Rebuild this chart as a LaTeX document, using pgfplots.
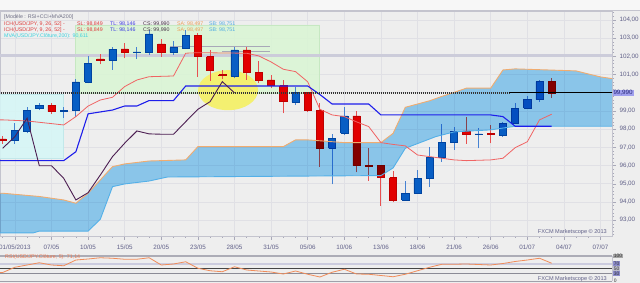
\documentclass[border=0pt]{standalone}
\usepackage{fontspec}
\setmainfont{Liberation Sans}
\usepackage{pgfplots}
\usepackage{pgfplotstable}
\pgfplotsset{compat=1.18}
\definecolor{bg}{RGB}{238,238,238}
\definecolor{gridc}{RGB}{224,224,229}
\definecolor{toolbar}{RGB}{247,247,247}
\definecolor{bordc}{RGB}{196,196,206}
\definecolor{greenr}{RGB}{218,245,212}
\definecolor{greenb}{RGB}{198,232,194}
\definecolor{cyanr}{RGB}{214,246,246}
\definecolor{cyanb}{RGB}{194,232,234}
\definecolor{cloud}{RGB}{148,212,250}
\definecolor{cloudtop}{RGB}{240,172,112}
\definecolor{cloudbot}{RGB}{84,176,232}
\definecolor{cblue}{RGB}{8,94,196}
\definecolor{cblued}{RGB}{0,68,160}
\definecolor{cbluew}{RGB}{70,130,210}
\definecolor{cred}{RGB}{226,0,0}
\definecolor{credd}{RGB}{190,0,0}
\definecolor{credw}{RGB}{232,80,80}
\definecolor{kijun}{RGB}{30,30,235}
\definecolor{tenkan}{RGB}{240,100,100}
\definecolor{chikou}{RGB}{76,30,82}
\definecolor{ell}{RGB}{244,240,112}
\definecolor{hline}{RGB}{204,204,218}
\definecolor{sline}{RGB}{168,168,184}
\definecolor{labc}{RGB}{96,96,136}
\definecolor{rsic}{RGB}{240,140,90}
\definecolor{pricebox}{RGB}{160,160,238}
\definecolor{legred}{RGB}{222,60,60}
\definecolor{legblue}{RGB}{60,60,225}
\definecolor{legdark}{RGB}{70,50,70}
\definecolor{legorange}{RGB}{236,160,90}
\definecolor{leglblue}{RGB}{80,172,226}
\definecolor{legcyan}{RGB}{60,210,222}
\definecolor{leggray}{RGB}{110,110,132}

\pgfplotstableread{
i o h l c
0 97.46 97.63 97.19 97.40
1 97.37 98.36 97.19 97.92
2 97.86 99.20 97.77 99.02
3 99.13 99.42 99.05 99.31
4 99.31 99.42 98.82 98.96
5 98.98 99.20 98.60 99.04
6 99.02 100.78 98.69 100.59
7 100.59 102.02 100.52 101.62
8 101.86 102.11 101.56 101.80
9 101.80 102.53 101.25 102.39
10 102.41 102.72 101.89 102.22
11 102.20 102.53 101.84 102.24
12 102.21 103.45 102.08 103.23
13 102.68 102.94 101.99 102.22
14 102.22 102.86 102.08 102.48
15 102.46 103.45 102.39 103.14
16 103.14 103.27 100.89 101.99
17 101.99 102.32 100.67 101.25
18 101.00 101.25 100.74 100.95
19 100.92 102.50 100.79 102.35
20 102.35 102.53 100.70 101.11
21 101.11 101.77 100.52 100.70
22 100.70 100.98 100.25 100.43
23 100.39 100.70 98.87 99.51
24 99.49 100.34 99.33 100.01
25 100.01 100.05 98.96 99.02
26 99.02 99.42 95.94 96.95
27 96.95 97.72 94.97 97.50
28 97.77 99.24 97.68 98.73
29 98.73 99.02 95.63 96.00
30 96.02 96.95 95.17 95.98
31 96.00 96.00 93.80 95.34
32 95.34 95.72 93.98 94.11
33 94.11 95.17 94.11 94.48
34 94.48 95.76 94.44 95.30
35 95.30 97.00 94.84 96.44
36 96.44 98.27 96.22 97.28
37 97.26 98.10 96.86 97.86
38 97.90 98.69 97.19 97.72
39 97.72 98.05 96.95 97.74
40 97.75 98.23 97.22 97.73
41 97.68 98.41 97.59 98.32
42 98.32 99.42 98.29 99.15
43 99.15 99.82 99.15 99.64
44 99.64 100.70 99.51 100.61
45 100.61 100.83 99.70 99.99
}\candles

\pgfplotstableread{
i v
-0.5 94.48
0 94.48
3 94.30
5 94.11
6 93.93
7 94.48
8 95.21
9 95.94
10 96.09
12 96.25
15 96.31
16 97.04
23 97.04
24 97.41
25 97.41
28 97.26
31 97.26
32 97.77
33 99.20
35 99.56
36 99.80
37 100.02
38 100.25
40 100.25
41 101.25
42 101.31
47 101.20
48 101.03
49 100.87
50.5 100.72
}\cloudtop

\pgfplotstableread{
i v
-0.5 92.30
2.5 92.30
3 92.40
7 92.40
8 93.05
9 94.84
10 94.99
12 95.15
13.5 95.37
31 95.45
32 95.87
33 96.95
35.5 97.59
37 97.85
40 97.96
42 98.16
50.5 98.16
}\cloudbot

\pgfplotstableread{
i v
-0.5 96.27
5 96.27
6 96.76
7 98.84
9 99.05
10 99.27
11 99.27
12 99.57
14 99.57
15 100.37
25 100.37
26 99.90
27 99.38
30 99.38
31 98.78
40 98.78
41 98.69
42 98.16
45 98.16
}\kijun

\pgfplotstableread{
i v
-0.5 98.51
0 98.51
2 98.45
5 98.23
6 98.69
7 99.27
8 99.60
9 99.75
10 100.34
11 100.70
12 100.88
14 100.92
15 102.17
16 102.20
20 102.17
21 102.02
22 101.69
23 101.29
24 101.16
25 100.60
26 99.09
27 98.78
28 98.69
29 98.40
30 98.14
31 97.26
32 97.16
33 97.08
34 96.58
35 96.49
37 96.31
38 96.27
40 96.31
41 96.40
42 96.98
43 97.31
44 98.51
45 98.82
}\tenkan

\pgfplotstableread{
i v
0 96.95
1 97.59
2 98.60
3 95.99
4 95.99
5 95.30
6 94.11
7 94.51
8 95.48
9 96.49
10 97.23
11 97.90
12 97.74
13 97.72
14 97.72
15 98.41
16 99.09
17 99.51
18 100.61
19 99.99
}\chikou

\pgfplotstableread{
i r
-0.3 34
0 34
1 55
2 64
3 73
4 64
5 61
6 84
7 88
8 93
9 91
10 87
11 87
12 93
13 64
14 68
15 77
16 51
17 41
18 37
19 57
20 44
21 40
22 36
23 28
24 40
25 27
26 16
27 35
28 47
29 28
30 27
31 22
32 17
33 27
34 41
35 55
36 67
37 67
38 68
39 66
40 64
41 70
42 78
43 84
44 91
45 71
}\rsi

\newcommand\lf{\fontsize{5.3}{6}\selectfont}
\newcommand\af{\fontsize{6.3}{7}\selectfont}

\begin{document}
\begin{tikzpicture}
\path[use as bounding box, fill=bg] (0bp,0bp) rectangle (640bp,283bp);
\fill[toolbar] (0bp,273bp) rectangle (640bp,283bp);
\draw[bordc, line width=0.8bp] (0bp,272.6bp) -- (640bp,272.6bp);

\begin{axis}[
  at={(0bp,47bp)}, anchor=south west,
  scale only axis, width=612bp, height=225bp,
  xmin=-0.221, xmax=49.94, ymin=92.13, ymax=104.49,
  axis background/.style={fill=bg},
  axis line style={draw=bordc, line width=0.8bp},
  xtick={1,4,...,49},
  xticklabels={01/05/2013,07/05,10/05,15/05,20/05,23/05,28/05,31/05,05/06,10/06,13/06,18/06,21/06,26/06,01/07,04/07,07/07},
  minor xtick={0,...,50},
  ytick={93,94,...,104},
  yticklabels={{93,00},{94,00},{95,00},{96,00},{97,00},{98,00},{99,00},{},{101,00},{102,00},{103,00},{104,00}},
  minor ytick={92.2,92.4,...,104.4},
  xtick pos=bottom, ytick pos=right,
  tick align=outside,
  major tick length=4bp, minor tick length=2bp,
  tick style={draw=sline, line width=0.5bp},
  xmajorgrids, ymajorgrids,
  major grid style={draw=gridc, line width=0.6bp},
  ticklabel style={font=\af, text=labc},
  xticklabel style={yshift=-1bp},
  clip mode=individual,
]
% zones
\addplot[fill=greenr, draw=greenb, line width=0.6bp, fill opacity=0.88] coordinates {(5.97,99.98) (25.97,99.98) (25.97,103.73) (5.97,103.73) (5.97,99.98)};
\addplot[fill=cyanr, draw=cyanb, line width=0.6bp, fill opacity=0.88] coordinates {(-0.3,96.40) (4.97,96.40) (4.97,99.93) (-0.3,99.93) (-0.3,96.40)};
\addplot[hline, line width=2.4bp] coordinates {(-0.5,102.05) (50.5,102.05)};
\addplot[sline, line width=0.7bp] coordinates {(13.7,102.57) (21.9,102.57)};
\addplot[sline, line width=0.7bp] coordinates {(18,102.27) (21.9,102.27)};
\fill[ell] (axis cs:18.47,100.14) ellipse [x radius=30bp, y radius=20bp];
% candles
\pgfplotsinvokeforeach{0,...,45}{
  \pgfplotstablegetelem{#1}{o}\of\candles \edef\cdO{\pgfplotsretval}
  \pgfplotstablegetelem{#1}{h}\of\candles \edef\cdH{\pgfplotsretval}
  \pgfplotstablegetelem{#1}{l}\of\candles \edef\cdL{\pgfplotsretval}
  \pgfplotstablegetelem{#1}{c}\of\candles \edef\cdC{\pgfplotsretval}
  \pgfmathsetmacro\cdA{#1-0.29}
  \pgfmathsetmacro\cdB{#1+0.29}
  \ifdim\cdC pt<\cdO pt
    \def\cdb{cred}\def\cdw{credw}\def\cde{credd}
  \else
    \def\cdb{cblue}\def\cdw{cbluew}\def\cde{cblued}
  \fi
  \edef\cdtemp{%
    \noexpand\addplot[\cdw, line width=0.9bp] coordinates {(#1,\cdL) (#1,\cdH)};
    \noexpand\addplot[fill=\cdb, draw=\cde, line width=0.6bp] coordinates {(\cdA,\cdO) (\cdB,\cdO) (\cdB,\cdC) (\cdA,\cdC) (\cdA,\cdO)};
  }
  \cdtemp
}
% cloud
\addplot[fill=cloud, draw=none, blend mode=multiply] coordinates {
(-0.5,94.48) (0,94.48) (3,94.30) (5,94.11) (6,93.93) (7,94.48) (8,95.21) (9,95.94) (10,96.09) (12,96.25) (15,96.31) (16,97.04) (23,97.04) (24,97.41) (25,97.41) (28,97.26) (31,97.26) (32,97.77) (33,99.20) (35,99.56) (36,99.80) (37,100.02) (38,100.25) (40,100.25) (41,101.25) (42,101.31) (47,101.20) (48,101.03) (49,100.87) (50.5,100.72)
(50.5,98.16) (42,98.16) (40,97.96) (37,97.85) (35.5,97.59) (33,96.95) (32,95.87) (31,95.45) (13.5,95.37) (12,95.15) (10,94.99) (9,94.84) (8,93.05) (7,92.40) (3,92.40) (2.5,92.30) (-0.5,92.30) (-0.5,94.48)};
\addplot[cloudtop, line width=0.9bp] table[x=i, y=v] {\cloudtop};
\addplot[cloudbot, line width=0.9bp] table[x=i, y=v] {\cloudbot};
\addplot[tenkan, line width=0.8bp] table[x=i, y=v] {\tenkan};
\addplot[kijun, line width=1.1bp] table[x=i, y=v] {\kijun};
\addplot[chikou, line width=0.9bp] table[x=i, y=v] {\chikou};
% price line
\addplot[black!80, line width=1.3bp, dash pattern=on 1.1bp off 0.9bp] coordinates {(-0.5,99.99) (41.5,99.99)};
\addplot[black, line width=1bp] coordinates {(41.5,99.99) (50.5,99.99)};
\end{axis}

% RSI panel
\begin{axis}[
  at={(0bp,2bp)}, anchor=south west,
  scale only axis, width=612bp, height=25bp,
  xmin=-0.221, xmax=49.94, ymin=0, ymax=100,
  axis lines=none, clip=false,
]
\addplot[draw={rgb,255:red,172;green,172;blue,182}, line width=1.6bp] coordinates {(-0.221,100) (49.94,100)};
\addplot[draw={rgb,255:red,204;green,204;blue,222}, line width=2bp] coordinates {(-0.221,70) (49.94,70)};
\addplot[draw={rgb,255:red,70;green,70;blue,70}, line width=0.8bp] coordinates {(-0.221,50) (49.94,50)};
\addplot[draw={rgb,255:red,140;green,140;blue,150}, line width=0.8bp] coordinates {(-0.221,30) (49.94,30)};
\addplot[draw={rgb,255:red,160;green,160;blue,170}, line width=1bp] coordinates {(-0.221,0) (49.94,0)};
\addplot[draw=bordc, line width=0.8bp] coordinates {(49.94,0) (49.94,100)};
\addplot[rsic, line width=0.8bp] table[x=i, y=r] {\rsi};
\end{axis}

% legend texts
\node[anchor=west, inner sep=0pt, text=leggray, font=\lf] at (4bp,265.7bp) {[Modèle : RSI+CCI+MVA200]};
\foreach \yy in {259.0,252.8}{
\node[anchor=west, inner sep=0pt, text=legred, font=\lf] at (4bp,\yy bp) {ICH(USD/JPY, 9, 26, 52] -};
\node[anchor=west, inner sep=0pt, text=legred, font=\lf] at (77bp,\yy bp) {SL: 98,849};
\node[anchor=west, inner sep=0pt, text=legblue, font=\lf] at (110bp,\yy bp) {TL: 98,146};
\node[anchor=west, inner sep=0pt, text=legdark, font=\lf] at (143bp,\yy bp) {CS: 99,990};
\node[anchor=west, inner sep=0pt, text=legorange, font=\lf] at (177bp,\yy bp) {SA: 98,497};
\node[anchor=west, inner sep=0pt, text=leglblue, font=\lf] at (209bp,\yy bp) {SB: 98,751};
}
\node[anchor=west, inner sep=0pt, text=legcyan, font=\lf] at (4bp,247bp) {MVA(USD/JPY.Clôture,200): 90,611};
% price box
\node[anchor=west, inner sep=0.8bp, fill=pricebox, text={rgb,255:red,40;green,40;blue,120}, font=\af] at (612.5bp,190bp) {99,990};
% FXCM
\node[anchor=east, inner sep=0pt, text=labc, font=\fontsize{5.6}{6}\selectfont] at (607bp,50.7bp) {FXCM Marketscope © 2013};
\node[anchor=east, inner sep=0pt, text=labc, font=\fontsize{5.6}{6}\selectfont] at (607bp,3.5bp) {FXCM Marketscope © 2013};
% RSI labels
\node[anchor=west, inner sep=0.6bp, fill={rgb,255:red,165;green,165;blue,165}, text=black!80, font=\fontsize{5}{5}\selectfont] at (613bp,27bp) {100};
\node[anchor=west, inner sep=0.6bp, fill={rgb,255:red,140;green,140;blue,205}, text=black!80, font=\fontsize{5}{5}\selectfont] at (613bp,19.5bp) {70};
\node[anchor=west, inner sep=0.6bp, fill={rgb,255:red,190;green,190;blue,205}, text=black!80, font=\fontsize{5}{5}\selectfont] at (613bp,14.5bp) {50};
\node[anchor=west, inner sep=0.6bp, fill={rgb,255:red,140;green,140;blue,205}, text=black!80, font=\fontsize{5}{5}\selectfont] at (613bp,9.5bp) {30};
\node[anchor=west, inner sep=0.6bp, text=black!80, font=\fontsize{5}{5}\selectfont] at (613bp,2.5bp) {0};
% RSI title
\node[anchor=west, inner sep=0pt, text={rgb,255:red,235;green,120;blue,80}, font=\lf] at (5bp,26bp) {RSI(USD/JPY.Clôture, 5): 71,14};
\end{tikzpicture}
\end{document}
